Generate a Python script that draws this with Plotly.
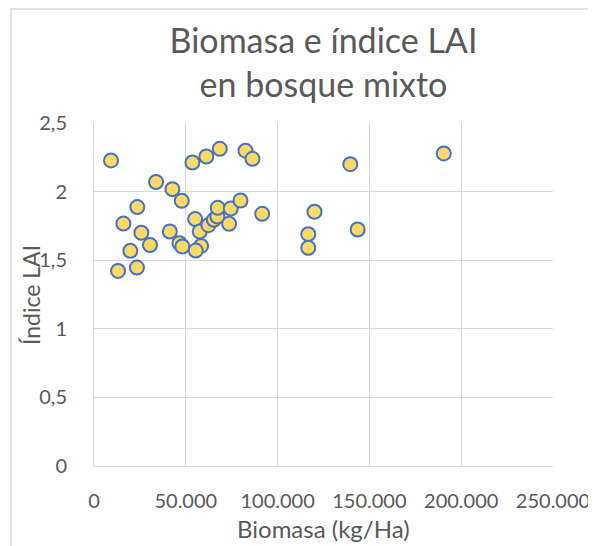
import plotly.graph_objects as go

biomasa = [9270, 33800, 42700, 47800, 23600, 16000, 25800, 30500, 19800, 13100,
           23400, 41300, 46500, 48100, 53600, 61200, 68500, 82500, 86300, 55100,
           57600, 58300, 55400, 62300, 65300, 67200, 67400, 74500, 79800, 73600,
           91600, 120100, 116700, 116700, 139600, 143600, 190500]
lai = [2.227, 2.07, 2.018, 1.933, 1.887, 1.767, 1.70, 1.61, 1.568, 1.422,
       1.446, 1.709, 1.624, 1.60, 2.212, 2.256, 2.312, 2.298, 2.239, 1.80,
       1.709, 1.604, 1.57, 1.755, 1.794, 1.818, 1.882, 1.877, 1.935, 1.765,
       1.838, 1.853, 1.69, 1.59, 2.20, 1.724, 2.278]

title_text = "Biomasa e índice LAI<br>en bosque mixto"
x_title = "Biomasa (kg/Ha)"
y_title = "Índice LAI"

FONT = "Lato"
GREY = "#595959"

# page body has an 8px margin; work in window coordinates and subtract it
OFF = 8
W, H = 596 - OFF, 546 - OFF
PL, PR, PT, PB = 94 - OFF, 553 - OFF, 123 - OFF, 466 - OFF   # plot box in figure px
pw, ph = PR - PL, PB - PT


def px_x(x):
    return (x - OFF - PL) / pw


def px_y(y):
    return (PB - (y - OFF)) / ph


fig = go.Figure(go.Scatter(
    x=biomasa, y=lai, mode="markers",
    marker=dict(size=14, color="#FFD966", line=dict(color="#4472C4", width=2)),
    showlegend=False,
))

fig.update_layout(
    width=W, height=H,
    margin=dict(l=PL, r=W - PR, t=PT, b=H - PB, autoexpand=False),
    paper_bgcolor="white", plot_bgcolor="white",
    separators=",.",
    font=dict(family=FONT, color=GREY, size=20),
    title=dict(text=title_text, x=(PL + pw / 2) / W, xanchor="center",
               y=1 - 45 / H, yanchor="top",
               font=dict(family=FONT, size=34, color=GREY)),
    xaxis=dict(range=[0, 250000], dtick=50000, tickformat=",d",
               automargin=False,
               showgrid=True, gridcolor="#D9D9D9", gridwidth=1,
               showline=True, linecolor="#D9D9D9", linewidth=1,
               zeroline=False, ticks="", ticklabelstandoff=17,
               tickfont=dict(size=20, color=GREY)),
    yaxis=dict(range=[0, 2.5], dtick=0.5, automargin=False,
               showgrid=True, gridcolor="#D9D9D9", gridwidth=1,
               showline=True, linecolor="#D9D9D9", linewidth=1,
               zeroline=False, ticks="", ticklabelstandoff=22,
               tickfont=dict(size=20, color=GREY)),
    annotations=[
        dict(text=x_title, xref="paper", yref="paper",
             x=0.5, y=px_y(528), xanchor="center", yanchor="middle",
             showarrow=False, font=dict(size=24, color=GREY, family=FONT)),
        dict(text=y_title, xref="paper", yref="paper", textangle=-90,
             x=px_x(31), y=px_y(295), xanchor="center", yanchor="middle",
             showarrow=False, font=dict(size=23, color=GREY, family=FONT)),
    ],
    shapes=[dict(type="rect", xref="paper", yref="paper",
                 x0=px_x(11), x1=px_x(600), y0=px_y(552), y1=px_y(9),
                 line=dict(color="#D9D9D9", width=1.5), layer="below")],
)

fig.write_html("out.html")
